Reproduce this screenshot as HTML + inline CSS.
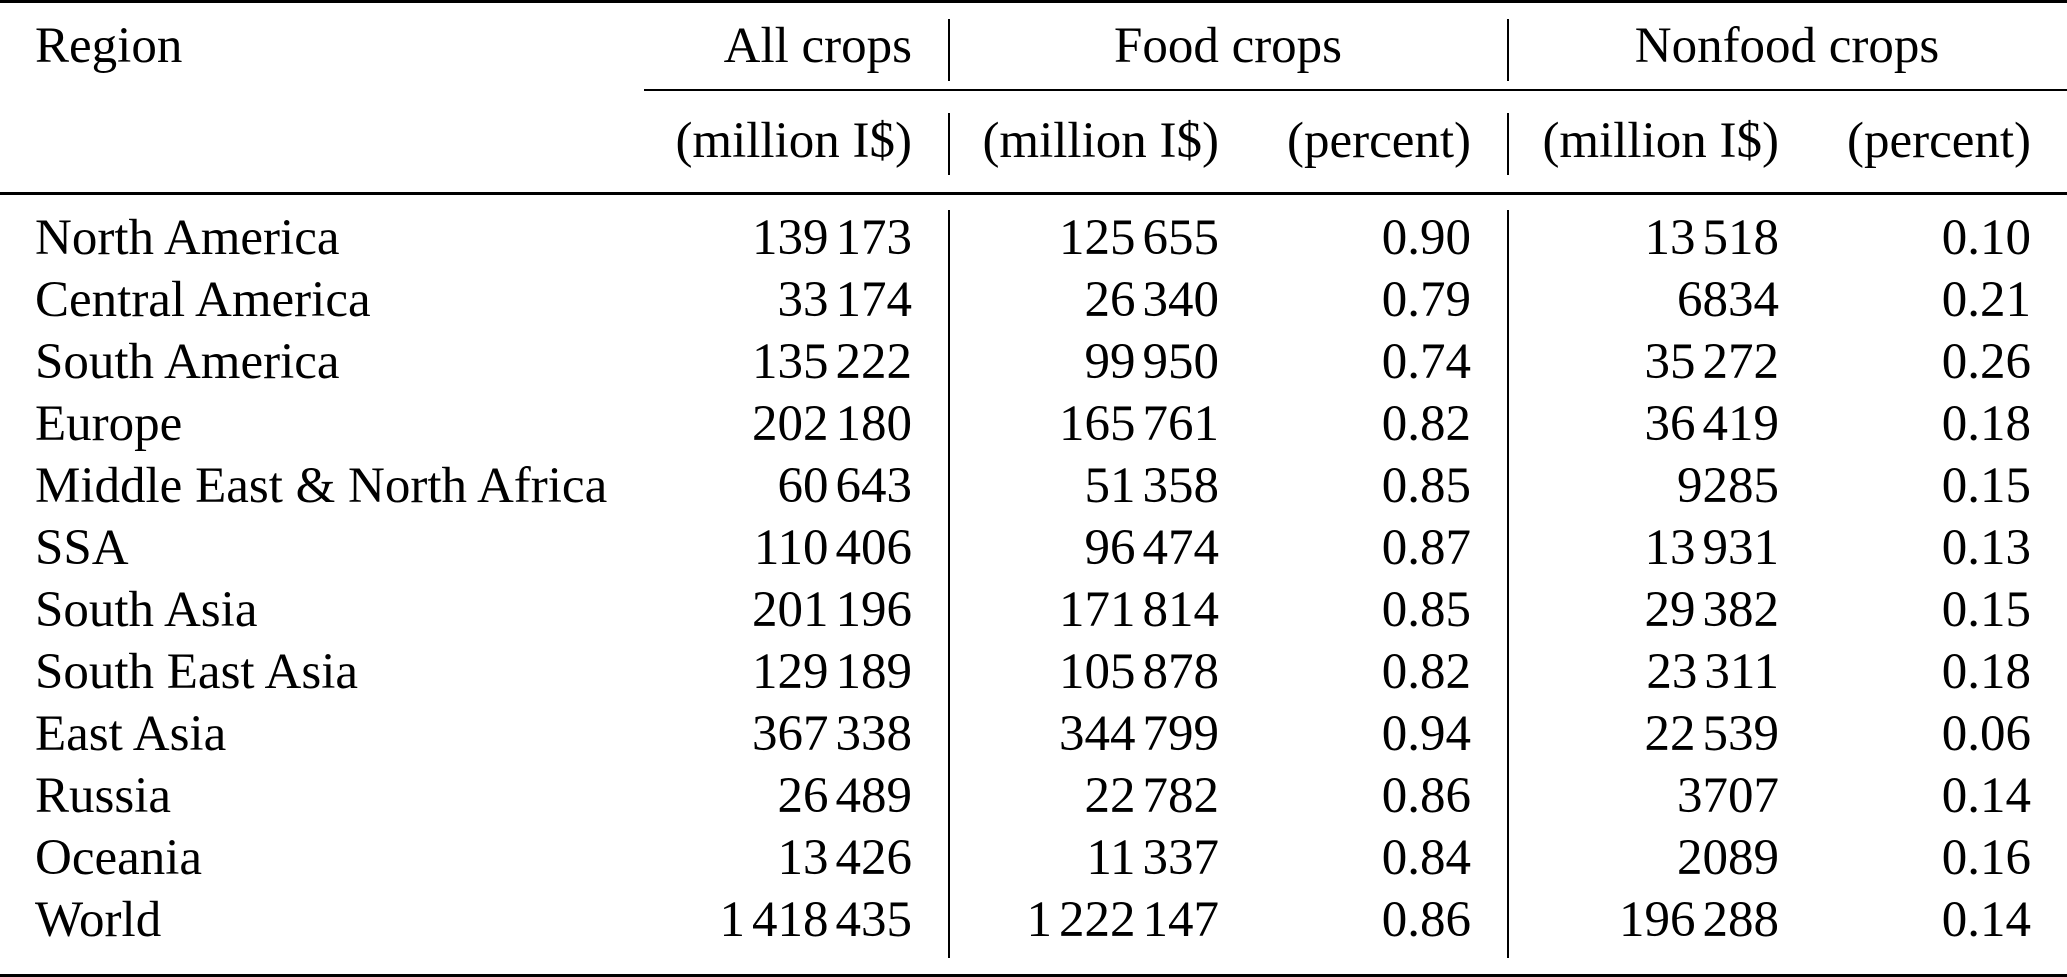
<!DOCTYPE html>
<html><head><meta charset="utf-8">
<style>
html,body{margin:0;padding:0;background:#fff;}
#t{position:relative;width:2067px;height:977px;overflow:hidden;font-family:"Liberation Serif",serif;font-size:51px;color:#000;}
.tx{position:absolute;white-space:nowrap;line-height:1;}
.r{transform:translateX(-100%);}
.c{transform:translateX(-50%);}
.hl{position:absolute;background:#000;}
</style></head><body>
<div id="t">
<div class="hl" style="left:0;top:0;width:2067px;height:3px"></div>
<div class="hl" style="left:644px;top:89px;width:1423px;height:2px"></div>
<div class="hl" style="left:0;top:192px;width:2067px;height:3px"></div>
<div class="hl" style="left:0;top:974px;width:2067px;height:3px"></div>
<div class="hl" style="left:948px;top:19px;width:2px;height:62px"></div>
<div class="hl" style="left:1507px;top:19px;width:2px;height:62px"></div>
<div class="hl" style="left:948px;top:113px;width:2px;height:62px"></div>
<div class="hl" style="left:1507px;top:113px;width:2px;height:62px"></div>
<div class="hl" style="left:948px;top:210px;width:2px;height:748px"></div>
<div class="hl" style="left:1507px;top:210px;width:2px;height:748px"></div>
</div>
<script>
const S="\u2009";
const regions=["North America","Central America","South America","Europe","Middle East & North Africa","SSA","South Asia","South East Asia","East Asia","Russia","Oceania","World"];
const allCrops=["139 173","33 174","135 222","202 180","60 643","110 406","201 196","129 189","367 338","26 489","13 426","1 418 435"];
const foodVal=["125 655","26 340","99 950","165 761","51 358","96 474","171 814","105 878","344 799","22 782","11 337","1 222 147"];
const foodPct=["0.90","0.79","0.74","0.82","0.85","0.87","0.85","0.82","0.94","0.86","0.84","0.86"];
const nonfoodVal=["13 518","6834","35 272","36 419","9285","13 931","29 382","23 311","22 539","3707","2089","196 288"];
const nonfoodPct=["0.10","0.21","0.26","0.18","0.15","0.13","0.15","0.18","0.06","0.14","0.16","0.14"];
const t=document.getElementById('t');
const ASC=37;
function txt(s,x,base,cls,name,num){
  const d=document.createElement('div');
  d.className='tx'+(cls?' '+cls:'');
  if(num){
    s.split(' ').forEach((g,k)=>{
      if(k>0){const sp=document.createElement('span');sp.style.display='inline-block';sp.style.width='7px';d.appendChild(sp);}
      d.appendChild(document.createTextNode(g));
    });
  } else d.textContent=s;
  d.style.left=x+'px';
  d.style.top=(base-ASC-4)+'px';
  
  
  t.appendChild(d);
}
txt("Region",35,62,"","region-header");
txt("All crops",912,62,"r","all-crops-header");
txt("Food crops",1228,62,"c","food-crops-header");
txt("Nonfood crops",1787,62,"c","nonfood-crops-header");
txt("(million I$)",912,157,"r","all-crops-unit");
txt("(million I$)",1219,157,"r","food-value-unit");
txt("(percent)",1471,157,"r","food-percent-unit");
txt("(million I$)",1779,157,"r","nonfood-value-unit");
txt("(percent)",2031,157,"r","nonfood-percent-unit");
regions.forEach((r,i)=>{
  const b=254+62*i;
  txt(r,35,b,"","region-name");
  txt(allCrops[i],912,b,"r","all-crops-value",true);
  txt(foodVal[i],1219,b,"r","food-value",true);
  txt(foodPct[i],1471,b,"r","food-percent");
  txt(nonfoodVal[i],1779,b,"r","nonfood-value",true);
  txt(nonfoodPct[i],2031,b,"r","nonfood-percent");
});
</script>
</body></html>
